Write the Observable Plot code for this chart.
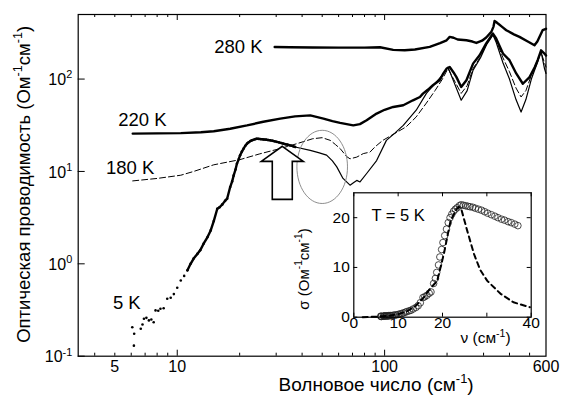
<!DOCTYPE html>
<html>
<head>
<meta charset="utf-8">
<script src="https://cdn.jsdelivr.net/npm/d3@7"></script>
<script src="https://cdn.jsdelivr.net/npm/@observablehq/plot@0.6"></script>
<style>
  body { margin: 0; background: white; }
  #wrap { position: relative; width: 561px; height: 403px; }
  #wrap svg { position: absolute; }
</style>
</head>
<body>
<div id="wrap"></div>
<script>
// ---------- data ----------
const x280 = [29.5, 35, 45, 60, 80, 95, 110, 125, 140, 165, 185, 199, 206, 215, 225, 248, 265, 277, 295, 309, 327, 335, 339, 345, 352, 370, 386, 420, 447, 490, 528, 545, 558, 578, 600];
const y280 = [222, 221, 220, 219, 219, 221, 207, 205, 209, 223, 245, 263, 286, 280, 268, 263, 255, 246, 260, 282, 324, 370, 426, 415, 399, 365, 338, 305, 286, 255, 232, 255, 286, 338, 350];

const x220 = [6.1, 8, 10.4, 13, 15, 18, 21.7, 26, 31.4, 37, 43.8, 50.7, 56, 61, 70.6, 76, 81.9, 91.5, 100, 110, 123, 137, 148, 153, 162, 171, 184, 192, 199, 206, 215, 222, 234, 248, 267, 287, 309, 333, 345, 372, 400, 431, 464, 500, 530, 547, 568, 590, 600];
const y220 = [25.7, 25.8, 26, 26.6, 27.2, 29, 31.5, 34.5, 37.3, 39.5, 40.5, 37.3, 35, 33.5, 31.5, 32.5, 35.8, 42.3, 46.5, 49.9, 52, 58.9, 64, 69.6, 77, 85.7, 97, 115, 130, 135, 118, 105, 82, 97, 147, 181, 243, 311, 275, 189, 160, 115, 89, 105, 135, 160, 205, 189, 180];

const x180 = [6.1, 8, 10.4, 12, 15, 20, 25, 31.4, 37.8, 45, 50, 54.7, 58, 61, 65.6, 68.1, 73.4, 78.9, 85, 90, 98, 114, 127, 142, 159, 175, 190, 202, 215, 234, 250, 267, 290, 310, 333, 345, 372, 400, 430, 455, 480, 510, 545, 568, 590, 600];
const y180 = [7.9, 8.4, 9.1, 10, 11.8, 13.4, 15.5, 17.7, 20.0, 22.6, 23.2, 21.7, 19.5, 17.7, 14.5, 13.7, 14.3, 15.6, 16.2, 18.5, 21.7, 26.4, 30.4, 38.9, 55, 75, 100, 130, 100, 70, 85, 130, 175, 240, 305, 265, 170, 120, 80, 64, 75, 110, 160, 195, 150, 135];

// 5 K : THz points (dots) and IR continuation (thin line)
const x5 = [6.07, 6.18, 6.2, 6.67, 6.8, 6.91, 7.1, 7.3, 7.5, 7.7, 7.86, 8.1, 8.3, 8.6, 8.95, 9.3, 9.63, 10, 10.4, 10.8, 11.2, 11.6, 12.0, 12.5, 12.9, 13.4, 14, 14.5, 15, 15.6, 16, 16.5, 17, 17.4, 18.0, 18.4, 18.7, 19.1, 19.4, 19.8, 20.1, 20.5, 20.9, 21.3, 21.7, 22.1, 22.5, 22.9, 23.3, 23.8, 24.2, 24.7, 25.2, 25.7, 26.2, 26.8, 27.4, 28.1, 28.8, 29.5, 30.2, 31, 31.8, 32.5, 33.3, 34, 34.8, 35.5, 36.3, 37];
const y5 = [0.206, 0.13, 0.175, 0.198, 0.22, 0.254, 0.26, 0.244, 0.25, 0.233, 0.313, 0.31, 0.326, 0.33, 0.419, 0.43, 0.47, 0.55, 0.66, 0.74, 0.85, 1.0, 1.14, 1.28, 1.40, 1.65, 1.95, 2.30, 2.9, 3.95, 4.1, 4.4, 4.8, 5.07, 6.78, 7.8, 9, 10.5, 12.1, 13.6, 15, 16.4, 17.7, 19, 20, 20.7, 21.3, 21.7, 22, 22.4, 22.6, 22.5, 22.4, 22.3, 22.2, 22.1, 21.9, 21.7, 21.5, 21.2, 20.9, 20.6, 20.3, 20.0, 19.7, 19.5, 19.2, 19.0, 18.7, 18.4];

const xIR = [37, 43.8, 48, 52.5, 56, 58.8, 63, 68.1, 71, 73.4, 76.1, 81.9, 91.5, 102, 112, 123, 142, 159, 175, 190, 202, 215, 234, 250, 267, 290, 310, 333, 345, 372, 400, 430, 455, 480, 510, 545, 568, 590, 600];
const yIR = [18.4, 16.9, 16, 15.0, 13, 11.2, 8.4, 7.1, 7.6, 8.0, 7.7, 9.5, 13.1, 21.7, 26, 31.5, 46, 70, 90, 110, 135, 95, 59, 75, 125, 170, 235, 300, 250, 150, 100, 60, 44, 60, 100, 150, 200, 130, 115];

// inset model (dashed)
const xModel = [2, 5, 8, 10, 12, 14, 15.8, 17, 18.8, 20.3, 21.8, 23, 23.7, 24.3, 25.6, 27.1, 28.5, 30.1, 33.1, 36, 39.7];
const yModel = [0, 0.1, 0.3, 0.6, 1.2, 2.3, 4, 5.5, 7.3, 12.7, 19.3, 21.5, 22.2, 21.5, 17.3, 12.7, 9.5, 7.3, 4.7, 3, 2];

// ticks and labels
const xMinor = [4, 5, 6, 7, 8, 9, 20, 30, 40, 50, 60, 70, 80, 90, 200, 300, 400, 500];
const xMajor = [10, 100];
const xLabels = [5, 10, 100, 600];
const yMajor = [0.1, 1, 10, 100];
const yExp = ["-1", "0", "1", "2"];
const insetXTicks = [0, 10, 20, 30, 40];
const insetXLabels = [0, 10, 20, 40];
const insetYTicks = [0, 10, 20];

// curve labels
const curveLabels = [
  {x: 19.7, y: 223, text: "280 K"},
  {x: 6.79, y: 35.8, text: "220 K"},
  {x: 5.93, y: 10.8, text: "180 K"},
  {x: 5.71, y: 0.372, text: "5 K"}
];
// annotation anchors
const arrowTip = [{x: 32.1, y: 18.7}];
const ellipseCenter = [{x: 50, y: 11.2}];

// ---------- tables ----------
const zip = (xs, ys) => xs.map((x, i) => ({x, y: ys[i]}));
const d280 = zip(x280, y280), d220 = zip(x220, y220), d180 = zip(x180, y180);
const d5 = zip(x5, y5), dIR = zip(xIR, yIR), dModel = zip(xModel, yModel);

const FONT = "'Liberation Sans', Arial, Helvetica, sans-serif";

// custom symbols (pixel shapes)
const arrowSymbol = {draw(c) {
  c.moveTo(0, 0); c.lineTo(21, 15); c.lineTo(10, 15); c.lineTo(10, 53);
  c.lineTo(-10, 53); c.lineTo(-10, 15); c.lineTo(-21, 15); c.closePath();
}};
const ellipseSymbol = {draw(c) {
  const rx = 25.3, ry = 36.6, k = 0.5523;
  c.moveTo(rx, 0);
  c.bezierCurveTo(rx, k * ry, k * rx, ry, 0, ry);
  c.bezierCurveTo(-k * rx, ry, -rx, k * ry, -rx, 0);
  c.bezierCurveTo(-rx, -k * ry, -k * rx, -ry, 0, -ry);
  c.bezierCurveTo(k * rx, -ry, rx, -k * ry, rx, 0);
  c.closePath();
}};

// ---------- main chart ----------
const W = 561, H = 403, mL = 77.7, mR = 15.5, mT = 14, mB = 47.3;
const iW = W - mL - mR, iH = H - mT - mB;

const main = Plot.plot({
  width: W, height: H, marginLeft: mL, marginRight: mR, marginTop: mT, marginBottom: mB,
  x: {type: "log", domain: [3.33, 600], axis: null},
  y: {type: "log", domain: [0.1, 500], axis: null},
  style: {fontFamily: FONT, fontSize: "16px", color: "black", background: "white"},
  marks: [
    Plot.frame({stroke: "black", strokeWidth: 1.2}),
    Plot.tickX(xMinor, {x: d => d, insetTop: iH - 3, stroke: "black"}),
    Plot.tickX(xMajor, {x: d => d, insetTop: iH - 6, stroke: "black"}),
    Plot.tickX(xMinor, {x: d => d, insetBottom: iH - 3, stroke: "black"}),
    Plot.tickX(xMajor, {x: d => d, insetBottom: iH - 6, stroke: "black"}),
    Plot.tickY(yMajor, {y: d => d, insetRight: iW - 7, stroke: "black"}),
    Plot.text(xLabels, {x: d => d, text: d => String(d), frameAnchor: "bottom", dy: 16, fontSize: 16, fill: "black"}),
    Plot.text(yMajor, {y: d => d, text: (d, i) => "10^{" + yExp[i] + "}", frameAnchor: "left", textAnchor: "end", dx: -6, dy: 1, fontSize: 16, fill: "black"}),
    Plot.text(["Оптическая проводимость (Ом^{-1}см^{-1})"], {frameAnchor: "left", textAnchor: "middle", rotate: -90, dx: -54, dy: -1, fontSize: 18.5, fill: "black"}),
    Plot.text(["Волновое число (см^{-1})"], {frameAnchor: "bottom", textAnchor: "middle", dy: 35, dx: 64, fontSize: 19, fill: "black"}),
    Plot.line(d280, {x: "x", y: "y", stroke: "black", strokeWidth: 2.4}),
    Plot.line(d220, {x: "x", y: "y", stroke: "black", strokeWidth: 2.4}),
    Plot.line(d180, {x: "x", y: "y", stroke: "black", strokeWidth: 1, strokeDasharray: "6,3"}),
    Plot.line(dIR, {x: "x", y: "y", stroke: "black", strokeWidth: 1.2}),
    Plot.line(d5.filter(d => d.x >= 11), {x: "x", y: "y", stroke: "black", strokeWidth: 2.4}),
    Plot.dot(d5, {x: "x", y: "y", r: 1.3, fill: "black"}),
    Plot.dot(ellipseCenter, {x: "x", y: "y", symbol: ellipseSymbol, stroke: "#808080", strokeWidth: 0.9, fill: "none"}),
    Plot.dot(arrowTip, {x: "x", y: "y", symbol: arrowSymbol, stroke: "black", strokeWidth: 1.6, fill: "white"}),
    Plot.text(curveLabels, {x: "x", y: "y", text: "text", fontSize: 18.5, fill: "black"})
  ]
});

// ---------- inset ----------
const IW = 270, IH = 175, imL = 73.3, imR = 19.3, imT = 12.3, imB = 38.3;
const iiW = IW - imL - imR, iiH = IH - imT - imB;
const inset = Plot.plot({
  width: IW, height: IH, marginLeft: imL, marginRight: imR, marginTop: imT, marginBottom: imB,
  x: {domain: [0, 40], axis: null},
  y: {domain: [0, 25], axis: null},
  style: {fontFamily: FONT, fontSize: "15px", color: "black", background: "transparent"},
  marks: [
    Plot.frame({fill: "white", stroke: "none"}),
    Plot.tickX(insetXTicks, {x: d => d, insetTop: iiH - 4, stroke: "black"}),
    Plot.tickX(insetXTicks, {x: d => d, insetBottom: iiH - 4, stroke: "black"}),
    Plot.tickY(insetYTicks, {y: d => d, insetRight: iiW - 4, stroke: "black"}),
    Plot.tickY(insetYTicks, {y: d => d, insetLeft: iiW - 4, stroke: "black"}),
    Plot.text(insetXLabels, {x: d => d, text: d => String(d), frameAnchor: "bottom", dy: 11, fontSize: 15.5, fill: "black"}),
    Plot.text(insetYTicks, {y: d => d, text: d => String(d), frameAnchor: "left", textAnchor: "end", dx: -4, fontSize: 15.5, fill: "black"}),
    Plot.text(["ν (см^{-1})"], {frameAnchor: "bottom", textAnchor: "middle", dx: 43, dy: 26, fontSize: 15.5, fill: "black"}),
    Plot.text(["σ (Ом^{-1}см^{-1})"], {frameAnchor: "left", textAnchor: "middle", rotate: -90, dx: -50, dy: 14, fontSize: 15, fill: "black"}),
    Plot.text(["T = 5 K"], {x: 10, y: 20.3, fontSize: 16.5, fill: "black"}),
    Plot.dot(d5, {x: "x", y: "y", r: 3.3, stroke: "#222", strokeWidth: 0.8, fill: "none"}),
    Plot.line(dModel, {x: "x", y: "y", stroke: "black", strokeWidth: 2, strokeDasharray: "5,4"}),
    Plot.frame({stroke: "black", strokeWidth: 1.2})
  ]
});

const wrap = document.getElementById("wrap");
main.style.left = "0px"; main.style.top = "0px";
inset.style.left = "280px"; inset.style.top = "180px";
wrap.appendChild(main);
wrap.appendChild(inset);

// superscript formatting: "a^{b}c" -> tspans
function supify(svg) {
  d3.select(svg).selectAll("text").each(function () {
    const t = this.textContent;
    if (!t.includes("^{")) return;
    const sel = d3.select(this);
    sel.text(null);
    const parts = t.split(/\^\{([^}]*)\}/);
    let raised = false;
    parts.forEach((p, i) => {
      if (i % 2 === 1) {
        sel.append("tspan").attr("font-size", "0.68em").attr("dy", "-0.62em").text(p);
        raised = true;
      } else if (p) {
        const ts = sel.append("tspan").text(p);
        if (raised) { ts.attr("dy", "0.42em"); raised = false; }
      }
    });
  });
}
supify(main);
supify(inset);
</script>
</body>
</html>
